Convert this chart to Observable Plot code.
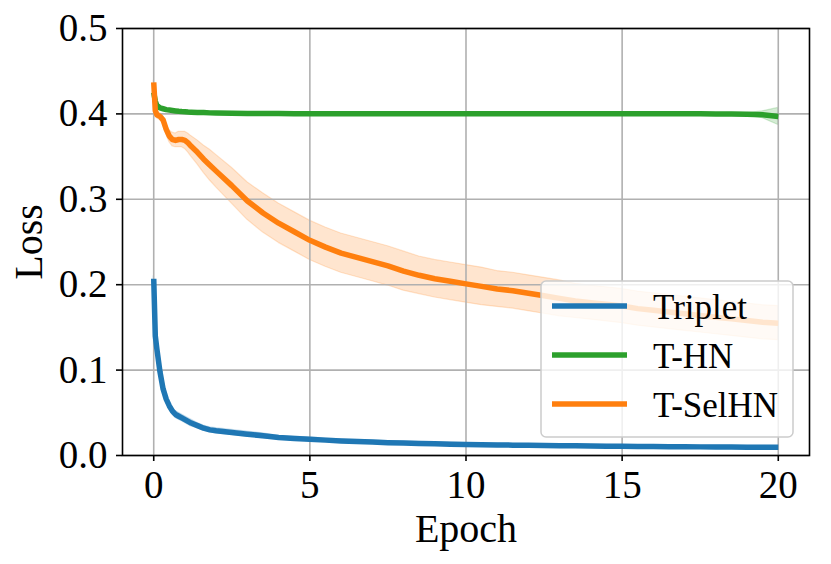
<!DOCTYPE html>
<html>
<head>
<meta charset="utf-8">
<script src="https://cdn.jsdelivr.net/npm/d3@7"></script>
<script src="https://cdn.jsdelivr.net/npm/@observablehq/plot@0.6"></script>
<style>
  html, body { margin: 0; padding: 0; background: white; }
  #chart { width: 831px; height: 564px; }
</style>
</head>
<body>
<div id="chart"></div>
<script>
const epochs = [0, 0.05, 0.1, 0.2, 0.3, 0.4, 0.5, 0.6, 0.7, 0.8, 0.9, 1.0, 1.1, 1.2, 1.4, 1.6, 1.8, 2.0, 2.5, 3, 3.5, 4, 4.5, 5, 5.5, 6, 6.5, 7, 7.5, 8, 8.5, 9, 9.5, 10, 10.5, 11, 11.5, 12, 12.5, 13, 13.5, 14, 14.5, 15, 15.5, 16, 16.5, 17, 17.5, 18, 18.5, 19, 19.5, 20];

const tripletMean = [0.207, 0.140, 0.125, 0.098, 0.078, 0.066, 0.058, 0.052, 0.048, 0.046, 0.044, 0.042, 0.040, 0.038, 0.035, 0.032, 0.030, 0.029, 0.027, 0.025, 0.023, 0.021, 0.020, 0.019, 0.018, 0.017, 0.0163, 0.0157, 0.015, 0.0145, 0.014, 0.0137, 0.0133, 0.013, 0.0127, 0.0124, 0.0121, 0.0119, 0.0117, 0.0115, 0.0113, 0.0111, 0.0109, 0.0107, 0.0105, 0.0104, 0.0103, 0.0102, 0.0101, 0.0100, 0.0099, 0.0098, 0.0097, 0.0096];
const tripletStd = [0.003, 0.005, 0.005, 0.004, 0.004, 0.004, 0.004, 0.004, 0.004, 0.004, 0.004, 0.004, 0.004, 0.004, 0.003, 0.003, 0.003, 0.003, 0.003, 0.003, 0.003, 0.002, 0.002, 0.002, 0.002, 0.002, 0.002, 0.002, 0.002, 0.002, 0.002, 0.002, 0.002, 0.0015, 0.0015, 0.0015, 0.0015, 0.0015, 0.0015, 0.0015, 0.0015, 0.0015, 0.0015, 0.0015, 0.0015, 0.0015, 0.0015, 0.0015, 0.0015, 0.0015, 0.0015, 0.0015, 0.0015, 0.0015];

const thnMean = [0.425, 0.415, 0.410, 0.407, 0.406, 0.405, 0.4045, 0.404, 0.4035, 0.403, 0.4027, 0.4025, 0.4022, 0.402, 0.4017, 0.4015, 0.4012, 0.401, 0.4008, 0.4006, 0.4005, 0.4004, 0.4003, 0.4003, 0.4002, 0.4002, 0.4002, 0.4001, 0.4001, 0.4001, 0.4001, 0.4001, 0.4001, 0.4001, 0.4001, 0.4001, 0.4001, 0.4001, 0.4001, 0.4001, 0.4001, 0.4001, 0.4001, 0.4001, 0.4001, 0.4001, 0.4001, 0.4001, 0.4001, 0.4000, 0.4000, 0.3995, 0.3990, 0.3970];
const thnStd = [0.002, 0.002, 0.002, 0.001, 0.001, 0.001, 0.001, 0.001, 0.001, 0.001, 0.001, 0.001, 0.001, 0.001, 0.001, 0.001, 0.001, 0.001, 0.001, 0.001, 0.001, 0.001, 0.001, 0.001, 0.001, 0.001, 0.001, 0.001, 0.001, 0.001, 0.001, 0.001, 0.001, 0.001, 0.001, 0.001, 0.001, 0.001, 0.001, 0.001, 0.001, 0.001, 0.001, 0.001, 0.001, 0.001, 0.001, 0.001, 0.001, 0.001, 0.0012, 0.0015, 0.004, 0.010];

const selMean = [0.437, 0.404, 0.399, 0.397, 0.393, 0.382, 0.374, 0.370, 0.369, 0.370, 0.370, 0.369, 0.366, 0.362, 0.355, 0.347, 0.340, 0.333, 0.316, 0.298, 0.284, 0.272, 0.262, 0.252, 0.244, 0.237, 0.232, 0.227, 0.222, 0.216, 0.211, 0.207, 0.204, 0.201, 0.198, 0.195, 0.193, 0.190, 0.187, 0.184, 0.181, 0.179, 0.177, 0.175, 0.172, 0.170, 0.168, 0.166, 0.164, 0.162, 0.160, 0.158, 0.156, 0.155];
const selStd = [0.002, 0.004, 0.004, 0.004, 0.005, 0.006, 0.007, 0.008, 0.008, 0.009, 0.009, 0.010, 0.011, 0.012, 0.014, 0.016, 0.018, 0.019, 0.021, 0.022, 0.023, 0.023, 0.023, 0.023, 0.023, 0.023, 0.023, 0.023, 0.023, 0.023, 0.022, 0.022, 0.022, 0.022, 0.022, 0.021, 0.021, 0.021, 0.021, 0.021, 0.020, 0.020, 0.020, 0.020, 0.020, 0.020, 0.020, 0.020, 0.020, 0.020, 0.020, 0.020, 0.020, 0.020];

const seriesNames = ["Triplet", "T-HN", "T-SelHN"];
const seriesColors = ["#1f77b4", "#2ca02c", "#ff7f0e"];
const xTicks = [0, 5, 10, 15, 20];
const yTicks = [0.0, 0.1, 0.2, 0.3, 0.4, 0.5];

const means = [tripletMean, thnMean, selMean];
const stds = [tripletStd, thnStd, selStd];
const tables = means.map((m, i) => epochs.map((x, j) => ({x, y: m[j], lo: m[j] - stds[i][j], hi: m[j] + stds[i][j], name: seriesNames[i]})));

const FONT = "'Liberation Serif', 'Times New Roman', serif";

const bandMarks = tables.map((t, i) => Plot.areaY(t, {x: "x", y1: "lo", y2: "hi", fill: seriesColors[i], fillOpacity: 0.2, stroke: seriesColors[i], strokeOpacity: 0.2, strokeWidth: 1.2}));
const lineMarks = tables.map((t, i) => Plot.line(t, {x: "x", y: "y", stroke: seriesColors[i], strokeWidth: 5.5, strokeLinejoin: "round", strokeLinecap: "butt"}));

const plot = Plot.plot({
  width: 831,
  height: 564,
  marginLeft: 122,
  marginRight: 22,
  marginTop: 28,
  marginBottom: 109,
  style: {fontFamily: FONT, background: "white", color: "black", overflow: "visible"},
  x: {domain: [-1, 21]},
  y: {domain: [0, 0.5]},
  marks: [
    ...bandMarks,
    Plot.gridX(xTicks, {stroke: "#b0b0b0", strokeOpacity: 1, strokeWidth: 1.6}),
    Plot.gridY(yTicks, {stroke: "#b0b0b0", strokeOpacity: 1, strokeWidth: 1.6}),
    ...lineMarks,
    Plot.frame({stroke: "black", strokeWidth: 1.6}),
    Plot.axisX(xTicks, {tickSize: 6, tickPadding: 9, fontSize: 39, label: null, strokeWidth: 1.6, tickFormat: d3.format("d")}),
    Plot.axisY(yTicks, {tickSize: 6, tickPadding: 9, fontSize: 39, label: null, strokeWidth: 1.6, tickFormat: d3.format(".1f")})
  ]
});

const svg = d3.select(plot);
// axis labels
svg.append("text").attr("x", 466).attr("y", 542).attr("text-anchor", "middle")
  .attr("font-size", 40).attr("font-family", FONT).attr("fill", "black").text("Epoch");
svg.append("text").attr("transform", "translate(42,242) rotate(-90)").attr("text-anchor", "middle")
  .attr("font-size", 40).attr("font-family", FONT).attr("fill", "black").text("Loss");

// legend
const lg = svg.append("g");
lg.append("rect").attr("x", 541).attr("y", 281).attr("width", 252).attr("height", 156).attr("rx", 5)
  .attr("fill", "white").attr("fill-opacity", 0.8).attr("stroke", "#cccccc").attr("stroke-width", 1.5);
seriesNames.forEach((n, i) => {
  const yy = 306 + i * 49;
  lg.append("line").attr("x1", 552).attr("x2", 627).attr("y1", yy).attr("y2", yy)
    .attr("stroke", seriesColors[i]).attr("stroke-width", 5.5);
  lg.append("text").attr("x", 653).attr("y", yy + 13).attr("text-anchor", "start").attr("font-size", 35).attr("font-family", FONT)
    .attr("fill", "black").text(n);
});

document.getElementById("chart").appendChild(plot);
</script>
</body>
</html>
